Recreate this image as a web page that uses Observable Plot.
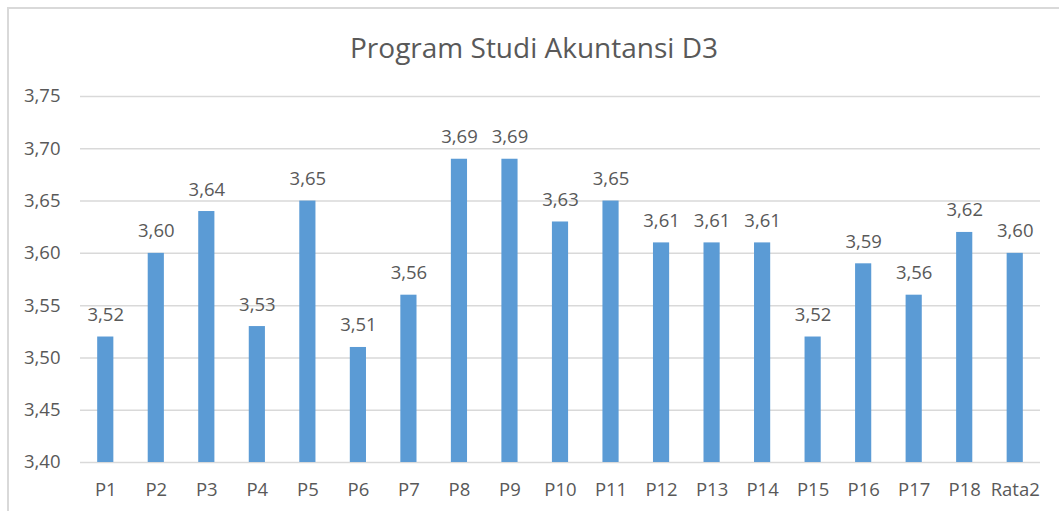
<!DOCTYPE html>
<html>
<head>
<meta charset="utf-8">
<script src="https://cdn.jsdelivr.net/npm/d3@7"></script>
<script src="https://cdn.jsdelivr.net/npm/@observablehq/plot@0.6"></script>
<style>
  html, body { margin: 0; padding: 0; background: #fff; overflow: hidden; }
  #frame { position: absolute; left: 7px; top: 7px; width: 1100px; height: 600px; border: 2px solid #d9d9d9; box-sizing: border-box; }
  #title { position: absolute; left: 0; width: 1068px; top: 28px; text-align: center; font-family: "Open Sans", "Noto Sans", sans-serif; font-size: 28px; color: #595959; line-height: 38px; }
  #chart { position: absolute; left: 0; top: 0; }
  #chart svg text { font-size: 18.5px; }
</style>
</head>
<body>
<div id="frame"></div>
<div id="title">Program Studi Akuntansi D3</div>
<div id="chart"></div>
<script>
const categories = ["P1","P2","P3","P4","P5","P6","P7","P8","P9","P10","P11","P12","P13","P14","P15","P16","P17","P18","Rata2"];
const values = [3.52,3.60,3.64,3.53,3.65,3.51,3.56,3.69,3.69,3.63,3.65,3.61,3.61,3.61,3.52,3.59,3.56,3.62,3.60];
const yTicks = [3.40,3.45,3.50,3.55,3.60,3.65,3.70,3.75];

const data = categories.map((c, i) => ({cat: c, val: values[i]}));
const fmt = v => d3.format(".2f")(v).replace(".", ",");

const chart = Plot.plot({
  width: 1059,
  height: 511,
  marginTop: 96,
  marginBottom: 49,
  marginLeft: 80,
  marginRight: 19,
  style: { fontFamily: "'Open Sans', 'Noto Sans', sans-serif", fontSize: "18.5px", color: "#595959", background: "transparent" },
  x: { domain: categories, paddingInner: 0.68, paddingOuter: 0.34, round: false, label: null, tickSize: 0, tickPadding: 20 },
  y: { domain: [3.40, 3.75], ticks: yTicks, tickFormat: fmt, label: null, tickSize: 0, tickPadding: 20 },
  marks: [
    Plot.gridY(yTicks, { stroke: "#d9d9d9", strokeOpacity: 1, strokeWidth: 1.5 }),
    Plot.barY(data, { x: "cat", y1: 3.40, y2: "val", fill: "#5b9bd5" }),
    Plot.text(data, { x: "cat", y: "val", text: d => fmt(d.val), lineAnchor: "bottom", dy: -16, fill: "#595959" })
  ]
});
document.getElementById("chart").appendChild(chart);
</script>
</body>
</html>
